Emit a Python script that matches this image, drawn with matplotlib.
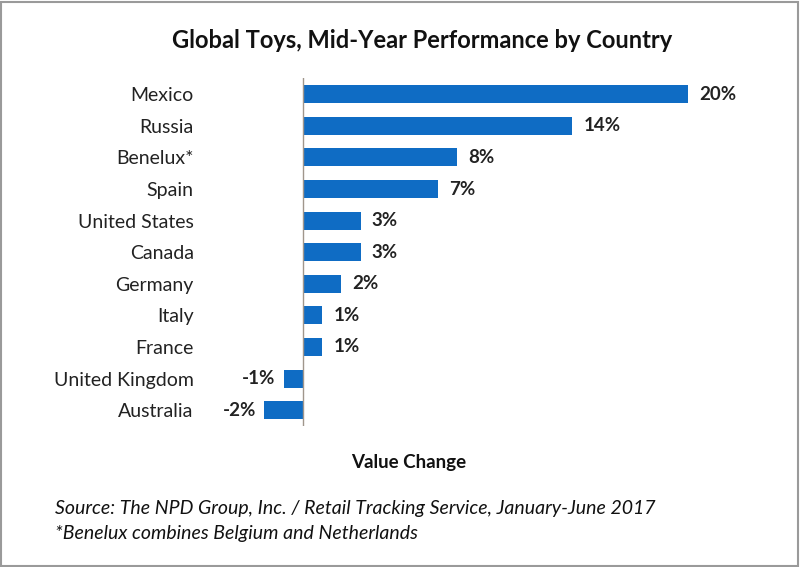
import matplotlib
matplotlib.use("Agg")
import matplotlib.pyplot as plt
from matplotlib.patches import Rectangle

countries = ["Mexico", "Russia", "Benelux*", "Spain", "United States", "Canada",
             "Germany", "Italy", "France", "United Kingdom", "Australia"]
values = [20, 14, 8, 7, 3, 3, 2, 1, 1, -1, -2]
labels = ["20%", "14%", "8%", "7%", "3%", "3%", "2%", "1%", "1%", "-1%", "-2%"]

title = "Global Toys, Mid-Year Performance by Country"
xlabel = "Value Change"
source1 = "Source: The NPD Group, Inc. / Retail Tracking Service, January-June 2017"
source2 = "*Benelux combines Belgium and Netherlands"

plt.rcParams['font.family'] = ['Lato', 'DejaVu Sans']

fig = plt.figure(figsize=(8, 5.67), dpi=100)
ax = fig.add_axes([0.3186, 0.2487, 0.565, 0.613])

ypos = list(range(len(countries)))
ax.barh(ypos, values, height=0.57, color="#0F6CC4", zorder=2)
ax.set_ylim(len(countries) - 0.5, -0.5)
ax.set_xlim(-2.5, 21)
ax.axvline(0, color="#A0968C", lw=1.0, zorder=3)

for s in ax.spines.values():
    s.set_visible(False)
ax.set_xticks([])
ax.set_yticks(ypos)
ax.set_yticklabels(countries, fontsize=14, color="#222222")
ax.tick_params(axis="y", length=0, pad=44)

for y, v, lab in zip(ypos, values, labels):
    if v >= 0:
        ax.annotate(lab, (v, y), xytext=(8, 0), textcoords="offset points",
                    ha="left", va="center", fontsize=13.5, fontweight="bold", color="#222222")
    else:
        ax.annotate(lab, (v, y), xytext=(-6, 0), textcoords="offset points",
                    ha="right", va="center", fontsize=13.5, fontweight="bold", color="#222222")

fig.text(0.528, 0.928, title, ha="center", va="center", fontsize=17,
         fontweight="bold", color="#111111")
fig.text(0.511, 0.185, xlabel, ha="center", va="center", fontsize=13.5,
         fontweight="bold", color="#111111")
fig.text(0.069, 0.104, source1, ha="left", va="center", fontsize=14,
         style="italic", color="#111111")
fig.text(0.069, 0.059, source2, ha="left", va="center", fontsize=14,
         style="italic", color="#111111")

fig.patches.append(Rectangle((0.001, 0.002), 0.997, 0.995, transform=fig.transFigure,
                             fill=False, edgecolor="#9A9A9A", lw=1.5))

fig.savefig("out.png", dpi=100)
